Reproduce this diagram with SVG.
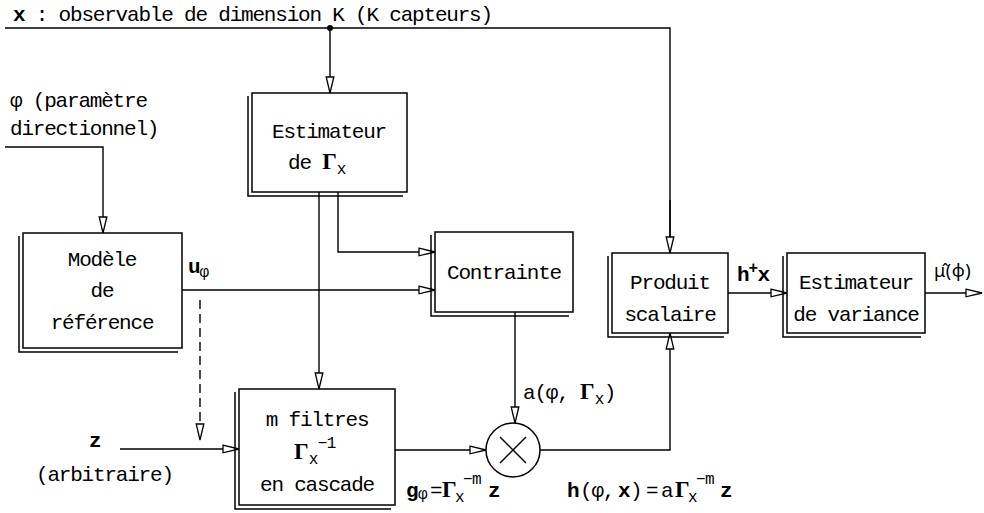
<svg xmlns="http://www.w3.org/2000/svg" width="984" height="513" viewBox="0 0 984 513">
<defs>
<style>
text{font-family:"Liberation Mono","DejaVu Sans Mono",monospace;font-size:21px;letter-spacing:-1.2px;fill:#000}
.c{text-anchor:middle}
.b{font-weight:bold}
.g{font-family:"Liberation Serif","DejaVu Serif",serif;font-weight:bold;font-size:23px;letter-spacing:0}
.s{font-size:16px;letter-spacing:-0.5px}
.dj{font-family:"Noto Sans","DejaVu Sans",sans-serif;font-size:18px;letter-spacing:0.5px}
.box{fill:#fff;stroke:#000;stroke-width:1.5}
.sh{fill:none;stroke:#000;stroke-width:1.5}
.ln{fill:none;stroke:#000;stroke-width:1.4}
.ar{marker-end:url(#arr)}
.d{stroke-dasharray:9 5}
</style>
<marker id="arr" markerWidth="18" markerHeight="10" refX="17" refY="5" orient="auto" markerUnits="userSpaceOnUse" viewBox="0 0 18 10">
<path d="M1,1.2 L17,5 L1,8.8 Z" fill="#fff" stroke="#000" stroke-width="1.3"/>
</marker>
</defs>
<rect width="984" height="513" fill="#fff"/>

<text x="13" y="21"><tspan class="b">x</tspan> : observable de dimension K (K capteurs)</text>
<text x="10" y="107">φ (paramètre</text>
<text x="10" y="135">directionnel)</text>

<g id="connectors">
<polyline class="ln" points="5,28 670,28 670,253"/>
<polyline class="ln ar" points="670,200 670,253"/>
<circle cx="330" cy="28" r="3" fill="#000"/>
<line class="ln ar" x1="330" y1="28" x2="330" y2="93"/>
<polyline class="ln ar" points="5,147 103,147 103,233"/>
<polyline class="ln ar" points="338,192 338,252 435,252"/>
<line class="ln ar" x1="319" y1="192" x2="319" y2="389"/>
<line class="ln ar" x1="182" y1="290" x2="435" y2="290"/>
<line class="ln d ar" x1="200" y1="300" x2="200" y2="440"/>
<line class="ln ar" x1="120" y1="449" x2="239" y2="449"/>
<line class="ln ar" x1="395" y1="450" x2="486" y2="450"/>
<line class="ln ar" x1="515" y1="312" x2="515" y2="423"/>
<polyline class="ln ar" points="540,450 670,450 670,333"/>
<line class="ln ar" x1="728" y1="293" x2="787" y2="293"/>
<line class="ln ar" x1="925" y1="293" x2="982" y2="293"/>
</g>

<g id="estimateur-gamma">
<polyline class="sh" points="248,96 248,196 403,196"/>
<rect class="box" x="252" y="93" width="155" height="99"/>
<text class="c" x="329" y="138">Estimateur</text>
<text x="288" y="169">de <tspan class="g">Γ</tspan><tspan class="s" dy="5">x</tspan></text>
</g>

<g id="modele">
<polyline class="sh" points="19,236 19,352 178,352"/>
<rect class="box" x="23" y="233" width="159" height="115"/>
<text class="c" x="102" y="266">Modèle</text>
<text class="c" x="102" y="297">de</text>
<text class="c" x="102" y="329">référence</text>
</g>

<g id="contrainte">
<polyline class="sh" points="431,235 431,316 569,316"/>
<rect class="box" x="435" y="232" width="138" height="80"/>
<text class="c" x="504" y="279">Contrainte</text>
</g>

<g id="filtres">
<polyline class="sh" points="235,392 235,509 391,509"/>
<rect class="box" x="239" y="389" width="156" height="116"/>
<text class="c" x="317" y="426">m filtres</text>
<text x="294" y="459"><tspan class="g">Γ</tspan><tspan class="s" dy="5">x</tspan><tspan class="s" dy="-16">−1</tspan></text>
<text class="c" x="317" y="491">en cascade</text>
</g>

<g id="multiplieur">
<circle cx="513" cy="450" r="27" fill="#fff" stroke="#000" stroke-width="1.5"/>
<line class="ln" x1="500" y1="437" x2="526" y2="463"/>
<line class="ln" x1="526" y1="437" x2="500" y2="463"/>
</g>

<g id="produit">
<polyline class="sh" points="608,256 608,337 724,337"/>
<rect class="box" x="612" y="253" width="116" height="80"/>
<text class="c" x="670" y="289">Produit</text>
<text class="c" x="670" y="321">scalaire</text>
</g>

<g id="variance">
<polyline class="sh" points="783,256 783,337 921,337"/>
<rect class="box" x="787" y="253" width="138" height="80"/>
<text class="c" x="856" y="289">Estimateur</text>
<text class="c" x="856" y="321">de variance</text>
</g>

<g id="labels">
<text x="188" y="273"><tspan class="b">u</tspan><tspan class="s" dy="4">φ</tspan></text>
<text x="89" y="447" class="b">z</text>
<text x="36" y="481">(arbitraire)</text>
<text x="523" y="399">a(φ, <tspan class="g">Γ</tspan><tspan class="s" dy="5">x</tspan><tspan dy="-5">)</tspan></text>
<text x="406" y="497"><tspan class="b">g</tspan><tspan class="s" x="418" dy="2">φ</tspan><tspan x="430" dy="-2">=</tspan><tspan class="g" x="442">Γ</tspan><tspan class="s" x="455" dy="5">x</tspan><tspan class="s" x="463" dy="-18">−m</tspan><tspan class="b" x="488" dy="13">z</tspan></text>
<text x="567" y="497"><tspan class="b">h</tspan><tspan x="580">(φ,</tspan><tspan class="b" x="618">x</tspan><tspan x="630">)</tspan><tspan x="646">=</tspan><tspan x="661">a</tspan><tspan class="g" x="675">Γ</tspan><tspan class="s" x="688" dy="5">x</tspan><tspan class="s" x="696" dy="-18">−m</tspan><tspan class="b" x="720" dy="13">z</tspan></text>
<text x="737" y="281"><tspan class="b">h</tspan><tspan class="s b" dy="-8">+</tspan><tspan class="b" dy="8">x</tspan></text>
<text x="934" y="277" class="dj">μ̂(φ)</text>
</g>
</svg>
